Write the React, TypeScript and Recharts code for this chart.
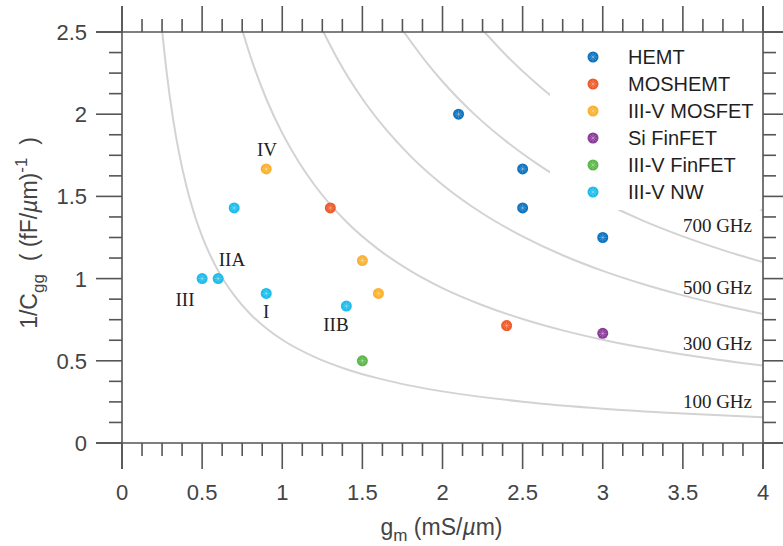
import React from 'react';
import { ComposedChart, Scatter, Line, XAxis, YAxis, Legend } from 'recharts';

// measured devices: gm (mS/um) and 1/Cgg ((fF/um)^-1)
const SERIES_NAMES = ['HEMT', 'MOSHEMT', 'III-V MOSFET', 'Si FinFET', 'III-V FinFET', 'III-V NW'];
const SERIES_COLORS = ['#0F74BF', '#EE5A2A', '#FBB12F', '#8A3C98', '#5AB848', '#1CBCEB'];

const HEMT_GM = [2.1, 2.5, 2.5, 3.0];
const HEMT_INV = [2.0, 1.667, 1.43, 1.25];
const MOSHEMT_GM = [1.3, 2.4];
const MOSHEMT_INV = [1.43, 0.714];
const MOSFET_GM = [0.9, 1.5, 1.6];
const MOSFET_INV = [1.667, 1.11, 0.91];
const SIFIN_GM = [3.0];
const SIFIN_INV = [0.667];
const IIIVFIN_GM = [1.5];
const IIIVFIN_INV = [0.5];
const NW_GM = [0.7, 0.5, 0.6, 0.9, 1.4];
const NW_INV = [1.43, 1.0, 1.0, 0.91, 0.833];

// constant fT contours
const FT100_GM = [0.2513, 0.28, 0.32, 0.36, 0.4, 0.45, 0.5, 0.6, 0.7, 0.8, 0.9, 1.0, 1.2, 1.4, 1.6, 1.8, 2.0, 2.5, 3.0, 3.5, 4.0];
const FT100_INV = [2.5, 2.244, 1.963, 1.745, 1.571, 1.396, 1.257, 1.047, 0.898, 0.785, 0.698, 0.628, 0.524, 0.449, 0.393, 0.349, 0.314, 0.251, 0.209, 0.18, 0.157];
const FT300_GM = [0.754, 0.8, 0.9, 1.0, 1.1, 1.2, 1.4, 1.6, 1.8, 2.0, 2.25, 2.5, 2.75, 3.0, 3.5, 4.0];
const FT300_INV = [2.5, 2.356, 2.094, 1.885, 1.714, 1.571, 1.346, 1.178, 1.047, 0.942, 0.838, 0.754, 0.685, 0.628, 0.539, 0.471];
const FT500_GM = [1.257, 1.35, 1.5, 1.65, 1.8, 2.0, 2.25, 2.5, 2.75, 3.0, 3.25, 3.5, 3.75, 4.0];
const FT500_INV = [2.5, 2.327, 2.094, 1.904, 1.745, 1.571, 1.396, 1.257, 1.142, 1.047, 0.967, 0.898, 0.838, 0.785];
const FT700_GM = [1.759, 1.9, 2.0, 2.2, 2.4, 2.6, 2.8, 3.0, 3.25, 3.5, 3.75, 4.0];
const FT700_INV = [2.5, 2.315, 2.199, 1.999, 1.833, 1.692, 1.571, 1.466, 1.353, 1.257, 1.173, 1.1];
const FT900_GM = [2.262, 2.4, 2.6, 2.8, 3.0, 3.25, 3.5, 3.75, 4.0];
const FT900_INV = [2.5, 2.356, 2.175, 2.02, 1.885, 1.74, 1.616, 1.508, 1.414];

const FT_LABELS = ['700 GHz', '500 GHz', '300 GHz', '100 GHz'];
const FT_LABEL_GM = [3.5, 3.5, 3.5, 3.5];
const FT_LABEL_INV = [1.283, 0.906, 0.566, 0.213];

const REGION_LABELS = ['IV', 'IIA', 'III', 'I', 'IIB'];
const REGION_GM = [0.905, 0.686, 0.393, 0.899, 1.335];
const REGION_INV = [1.746, 1.077, 0.833, 0.76, 0.681];

const X_MAJOR = [0, 0.5, 1, 1.5, 2, 2.5, 3, 3.5, 4];
const X_MINOR = [0.125, 0.25, 0.375, 0.625, 0.75, 0.875, 1.125, 1.25, 1.375, 1.625, 1.75, 1.875, 2.125, 2.25, 2.375, 2.625, 2.75, 2.875, 3.125, 3.25, 3.375, 3.625, 3.75, 3.875];
const Y_MAJOR = [0, 0.5, 1, 1.5, 2, 2.5];
const Y_MINOR = [0.125, 0.25, 0.375, 0.625, 0.75, 0.875, 1.125, 1.25, 1.375, 1.625, 1.75, 1.875, 2.125, 2.25, 2.375];

const X_TICKS = [...X_MAJOR, ...X_MINOR].sort((a, b) => a - b);
const Y_TICKS = [...Y_MAJOR, ...Y_MINOR].sort((a, b) => a - b);

const zip = (xs: number[], ys: number[]) => xs.map((x, i) => ({ x, y: ys[i] }));

const DEVICES = [
  zip(HEMT_GM, HEMT_INV),
  zip(MOSHEMT_GM, MOSHEMT_INV),
  zip(MOSFET_GM, MOSFET_INV),
  zip(SIFIN_GM, SIFIN_INV),
  zip(IIIVFIN_GM, IIIVFIN_INV),
  zip(NW_GM, NW_INV),
];
const CURVES = [
  zip(FT100_GM, FT100_INV),
  zip(FT300_GM, FT300_INV),
  zip(FT500_GM, FT500_INV),
  zip(FT700_GM, FT700_INV),
  zip(FT900_GM, FT900_INV),
];
const FT_TEXT = FT_LABELS.map((label, i) => ({ x: FT_LABEL_GM[i], y: FT_LABEL_INV[i], label }));
const REGION_TEXT = REGION_LABELS.map((label, i) => ({ x: REGION_GM[i], y: REGION_INV[i], label }));

const AXIS = '#555555';
const TICK_TXT = '#444444';
const SANS = '"Liberation Sans", Arial, Helvetica, sans-serif';
const SERIF = '"Liberation Serif", "Times New Roman", serif';
const MAJOR = 26;
const MINOR = 13;
const SW = 1.6;

const Marker = ({ cx, cy, color }: { cx: number; cy: number; color: string }) => (
  <g>
    <circle cx={cx} cy={cy} r={5.5} fill={color} />
    <path
      d={`M${cx - 4},${cy}H${cx + 4}M${cx},${cy - 4}V${cy + 4}M${cx - 2.8},${cy - 2.8}L${cx + 2.8},${cy + 2.8}M${cx - 2.8},${cy + 2.8}L${cx + 2.8},${cy - 2.8}`}
      stroke="#ffffff"
      strokeOpacity={0.3}
      strokeWidth={0.8}
    />
  </g>
);

const BottomTick = (props: any) => {
  const { x, y, payload } = props;
  const v = payload.value;
  const major = X_MAJOR.includes(v);
  return (
    <g>
      <line x1={x} x2={x} y1={y} y2={y + (major ? MAJOR : MINOR)} stroke={AXIS} strokeWidth={SW} />
      {major && (
        <text x={x} y={y + 57} textAnchor="middle" fontSize={22} fontFamily={SANS} fill={TICK_TXT}>
          {String(v)}
        </text>
      )}
      {v === 0 && <line x1={x - MAJOR} x2={x} y1={y} y2={y} stroke={AXIS} strokeWidth={SW} />}
      {v === 4 && <line x1={x} x2={x + MAJOR} y1={y} y2={y} stroke={AXIS} strokeWidth={SW} />}
    </g>
  );
};

const TopTick = (props: any) => {
  const { x, y, payload } = props;
  const v = payload.value;
  const major = X_MAJOR.includes(v);
  return (
    <g>
      <line x1={x} x2={x} y1={y} y2={y - (major ? MAJOR : MINOR)} stroke={AXIS} strokeWidth={SW} />
      {v === 0 && <line x1={x - MAJOR} x2={x} y1={y} y2={y} stroke={AXIS} strokeWidth={SW} />}
      {v === 4 && <line x1={x} x2={x + MAJOR} y1={y} y2={y} stroke={AXIS} strokeWidth={SW} />}
    </g>
  );
};

const LeftTick = (props: any) => {
  const { x, y, payload } = props;
  const v = payload.value;
  const major = Y_MAJOR.includes(v);
  return (
    <g>
      <line x1={x} x2={x - (major ? MAJOR : MINOR)} y1={y} y2={y} stroke={AXIS} strokeWidth={SW} />
      {major && (
        <text x={x - 35} y={y} dy="0.36em" textAnchor="end" fontSize={22} fontFamily={SANS} fill={TICK_TXT}>
          {String(v)}
        </text>
      )}
      {v === 0 && <line x1={x} x2={x} y1={y} y2={y + MAJOR} stroke={AXIS} strokeWidth={SW} />}
      {v === 2.5 && <line x1={x} x2={x} y1={y} y2={y - MAJOR} stroke={AXIS} strokeWidth={SW} />}
    </g>
  );
};

const RightTick = (props: any) => {
  const { x, y, payload } = props;
  const v = payload.value;
  const major = Y_MAJOR.includes(v);
  return (
    <g>
      <line x1={x} x2={x + (major ? MAJOR : MINOR)} y1={y} y2={y} stroke={AXIS} strokeWidth={SW} />
      {v === 0 && <line x1={x} x2={x} y1={y} y2={y + MAJOR} stroke={AXIS} strokeWidth={SW} />}
      {v === 2.5 && <line x1={x} x2={x} y1={y} y2={y - MAJOR} stroke={AXIS} strokeWidth={SW} />}
    </g>
  );
};

const XTitle = (props: any) => {
  const vb = props.viewBox;
  return (
    <text x={vb.x + vb.width / 2 - 1} y={vb.y + 92} textAnchor="middle" fontSize={23} fontFamily={SANS} fill={TICK_TXT} style={{ whiteSpace: 'pre' }}>
      g<tspan dy={6} fontSize={17}>m</tspan>
      <tspan dy={-6}> (mS/</tspan>
      <tspan fontStyle="italic">µ</tspan>
      <tspan>m)</tspan>
    </text>
  );
};

const YTitle = () => {
  const x = 37;
  const y = 233;
  return (
    <text x={x} y={y} transform={`rotate(-90 ${x} ${y})`} textAnchor="middle" fontSize={23} fontFamily={SANS} fill={TICK_TXT} style={{ whiteSpace: 'pre' }}>
      1/C<tspan dy={7} fontSize={17}>gg</tspan>
      <tspan dy={-7}>  ( (fF/</tspan>
      <tspan fontStyle="italic">µ</tspan>
      <tspan>m)</tspan>
      <tspan dy={-10} fontSize={17}>-1</tspan>
      <tspan dy={10}>  )</tspan>
    </text>
  );
};

const renderLegend = () => (
  <svg width={211} height={172} style={{ display: 'block', background: '#ffffff' }}>
    {SERIES_NAMES.map((name, i) => {
      const cy = 19 + 27 * i;
      return (
        <g key={name}>
          <Marker cx={43} cy={cy} color={SERIES_COLORS[i]} />
          <text x={78} y={cy} dy="0.36em" fontSize={20} fontFamily={SANS} fill="#1f1f1f">
            {name}
          </text>
        </g>
      );
    })}
  </svg>
);

const App: React.FC = () => {
  return (
    <div style={{ position: 'absolute', left: 0, top: 0, width: 783, height: 546, background: '#ffffff' }}>
      <ComposedChart width={783} height={546} margin={{ top: 0, right: 0, bottom: 0, left: 0 }}>
        <XAxis
          xAxisId="b"
          type="number"
          dataKey="x"
          domain={[0, 4]}
          allowDataOverflow
          ticks={X_TICKS}
          interval={0}
          height={103}
          tickSize={0}
          tickMargin={0}
          tickLine={false}
          tick={(p: any) => <BottomTick {...p} />}
          axisLine={{ stroke: AXIS, strokeWidth: SW }}
          label={{ content: (p: any) => <XTitle {...p} /> }}
        />
        <XAxis
          xAxisId="t"
          orientation="top"
          type="number"
          dataKey="x"
          domain={[0, 4]}
          allowDataOverflow
          ticks={X_TICKS}
          interval={0}
          height={32}
          tickSize={0}
          tickMargin={0}
          tickLine={false}
          tick={(p: any) => <TopTick {...p} />}
          axisLine={{ stroke: AXIS, strokeWidth: SW }}
        />
        <YAxis
          yAxisId="l"
          type="number"
          dataKey="y"
          domain={[0, 2.5]}
          allowDataOverflow
          ticks={Y_TICKS}
          interval={0}
          width={122}
          tickSize={0}
          tickMargin={0}
          tickLine={false}
          tick={(p: any) => <LeftTick {...p} />}
          axisLine={{ stroke: AXIS, strokeWidth: SW }}
          label={{ content: () => <YTitle /> }}
        />
        <YAxis
          yAxisId="r"
          orientation="right"
          type="number"
          dataKey="y"
          domain={[0, 2.5]}
          allowDataOverflow
          ticks={Y_TICKS}
          interval={0}
          width={20}
          tickSize={0}
          tickMargin={0}
          tickLine={false}
          tick={(p: any) => <RightTick {...p} />}
          axisLine={{ stroke: AXIS, strokeWidth: SW }}
        />

        {CURVES.map((pts, i) => (
          <Line
            key={`ft${i}`}
            xAxisId="b"
            yAxisId="l"
            data={pts}
            dataKey="y"
            type="monotone"
            stroke="#d3d3d3"
            strokeWidth={2}
            dot={false}
            activeDot={false}
            legendType="none"
            isAnimationActive={false}
          />
        ))}

        <Scatter
          xAxisId="b"
          yAxisId="l"
          data={FT_TEXT}
          legendType="none"
          isAnimationActive={false}
          shape={(p: any) => (
            <text x={p.cx} y={p.cy} textAnchor="start" fontSize={19} fontFamily={SERIF} fill="#222222">
              {p.payload?.label ?? p.label}
            </text>
          )}
        />
        <Scatter
          xAxisId="b"
          yAxisId="l"
          data={REGION_TEXT}
          legendType="none"
          isAnimationActive={false}
          shape={(p: any) => (
            <text x={p.cx} y={p.cy} textAnchor="middle" fontSize={19} fontFamily={SERIF} fill="#222222">
              {p.payload?.label ?? p.label}
            </text>
          )}
        />

        {DEVICES.map((pts, i) => (
          <Scatter
            key={SERIES_NAMES[i]}
            name={SERIES_NAMES[i]}
            xAxisId="b"
            yAxisId="l"
            data={pts}
            fill={SERIES_COLORS[i]}
            isAnimationActive={false}
            shape={(p: any) => <Marker cx={p.cx} cy={p.cy} color={SERIES_COLORS[i]} />}
          />
        ))}

        <Legend
          layout="vertical"
          align="center"
          verticalAlign="middle"
          content={renderLegend}
          wrapperStyle={{ position: 'absolute', left: 550, top: 38, width: 211, height: 172, margin: 0, padding: 0 }}
        />
      </ComposedChart>
    </div>
  );
};

export default App;
